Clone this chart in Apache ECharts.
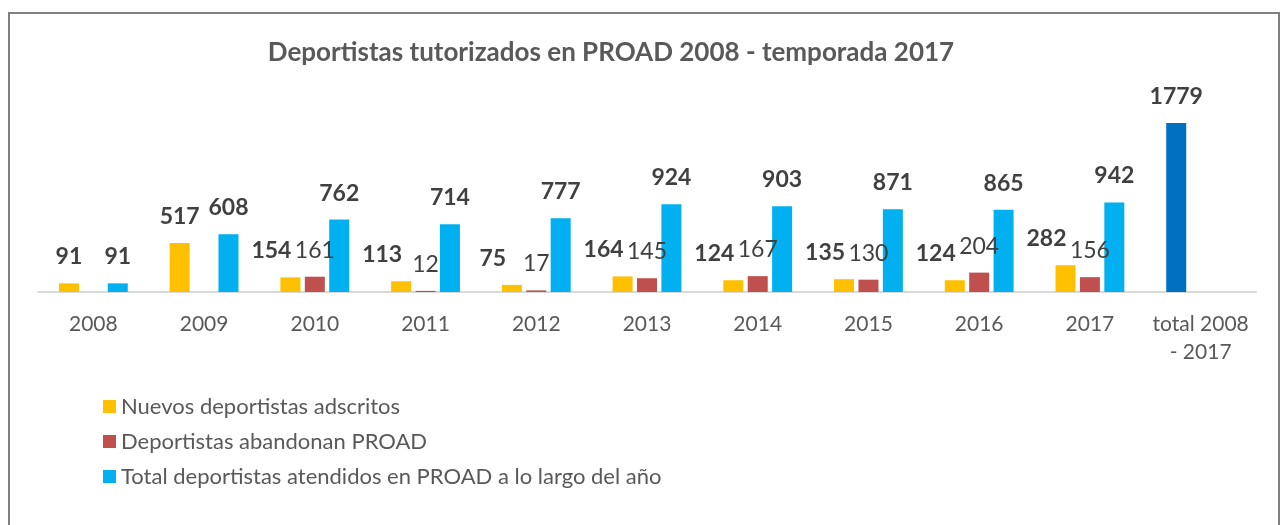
<!DOCTYPE html>
<html>
<head>
<meta charset="utf-8">
<script src="https://cdn.jsdelivr.net/npm/echarts@6/dist/echarts.min.js"></script>
<style>
	body { margin: 0; background: #ffffff; }
	#grafico { width: 1281px; height: 525px; }
</style>
</head>
<body>
<div id="grafico"></div>
<script>
// datos
var categorias = ['2008', '2009', '2010', '2011', '2012', '2013', '2014', '2015', '2016', '2017', 'total 2008\n- 2017'];
var nuevos = [91, 517, 154, 113, 75, 164, 124, 135, 124, 282];
var abandonan = [null, null, 161, 12, 17, 145, 167, 130, 204, 156];
var atendidos = [91, 608, 762, 714, 777, 924, 903, 871, 865, 942];
var totalPeriodo = 1779;

var fuente = 'Lato';
var colorTexto = '#595959';
var colorEtiqueta = '#404040';

function chart_barras(location) {
	var chartLocationInit = echarts.init(document.getElementById(location));

	// etiquetas amarillas desplazadas a la izquierda si hay etiqueta roja al lado
	var datosNuevos = new Array();
	echarts.util.each(nuevos, function(valor, i) {
		if (abandonan[i] != null) {
			datosNuevos.push({ value: valor, label: { offset: [-19, 0] } });
		} else {
			datosNuevos.push(valor);
		}
	});
	// la barra del total va en el hueco de la primera serie
	datosNuevos.push({ value: totalPeriodo, itemStyle: { color: '#0070C0' } });
	var datosAbandonan = abandonan.slice();
	datosAbandonan.push(null);
	var datosAtendidos = atendidos.slice();
	datosAtendidos.push(null);

	function etiqueta(negrita) {
		return {
			show: true,
			position: 'top',
			distance: 15,
			color: colorEtiqueta,
			fontFamily: fuente,
			fontSize: 23,
			fontWeight: negrita ? 'bold' : 'normal'
		};
	}

	var option = {
		animation: false,
		title: {
			text: 'Deportistas tutorizados en PROAD 2008 - temporada 2017',
			left: 606,
			top: 35,
			textAlign: 'center',
			textStyle: {
				color: colorTexto,
				fontFamily: fuente,
				fontSize: 26,
				fontWeight: 'bold'
			}
		},
		graphic: [{
			type: 'rect',
			shape: { x: 9, y: 13, width: 1270, height: 530 },
			style: { fill: 'none', stroke: '#808080', lineWidth: 2 },
			silent: true
		}],
		legend: {
			orient: 'vertical',
			left: 98,
			top: 390,
			itemWidth: 13,
			itemHeight: 13,
			itemGap: 12,
			icon: 'rect',
			textStyle: {
				color: colorTexto,
				fontFamily: fuente,
				fontSize: 22,
				lineHeight: 23
			},
			data: ['Nuevos deportistas adscritos', 'Deportistas abandonan PROAD', 'Total deportistas atendidos en PROAD a lo largo del año']
		},
		grid: {
			left: 38,
			right: 25,
			top: 102,
			bottom: 233
		},
		xAxis: {
			type: 'category',
			data: categorias,
			axisLine: { lineStyle: { color: '#d9d9d9', width: 2 } },
			axisTick: { show: false },
			axisLabel: {
				color: colorTexto,
				fontFamily: fuente,
				fontSize: 21,
				lineHeight: 28,
				margin: 18,
				interval: 0
			}
		},
		yAxis: {
			type: 'value',
			min: 0,
			max: 2000,
			show: false,
			splitLine: { show: false }
		},
		series: [{
			name: 'Nuevos deportistas adscritos',
			type: 'bar',
			barWidth: 20,
			barGap: '22%',
			itemStyle: { color: '#FFC000' },
			label: etiqueta(true),
			data: datosNuevos
		}, {
			name: 'Deportistas abandonan PROAD',
			type: 'bar',
			barWidth: 20,
			barGap: '22%',
			itemStyle: { color: '#C0504D' },
			label: etiqueta(false),
			data: datosAbandonan
		}, {
			name: 'Total deportistas atendidos en PROAD a lo largo del año',
			type: 'bar',
			barWidth: 20,
			barGap: '22%',
			itemStyle: { color: '#00B0F0' },
			label: etiqueta(true),
			data: datosAtendidos
		}]
	};

	chartLocationInit.setOption(option);
}

chart_barras('grafico');
</script>
</body>
</html>
